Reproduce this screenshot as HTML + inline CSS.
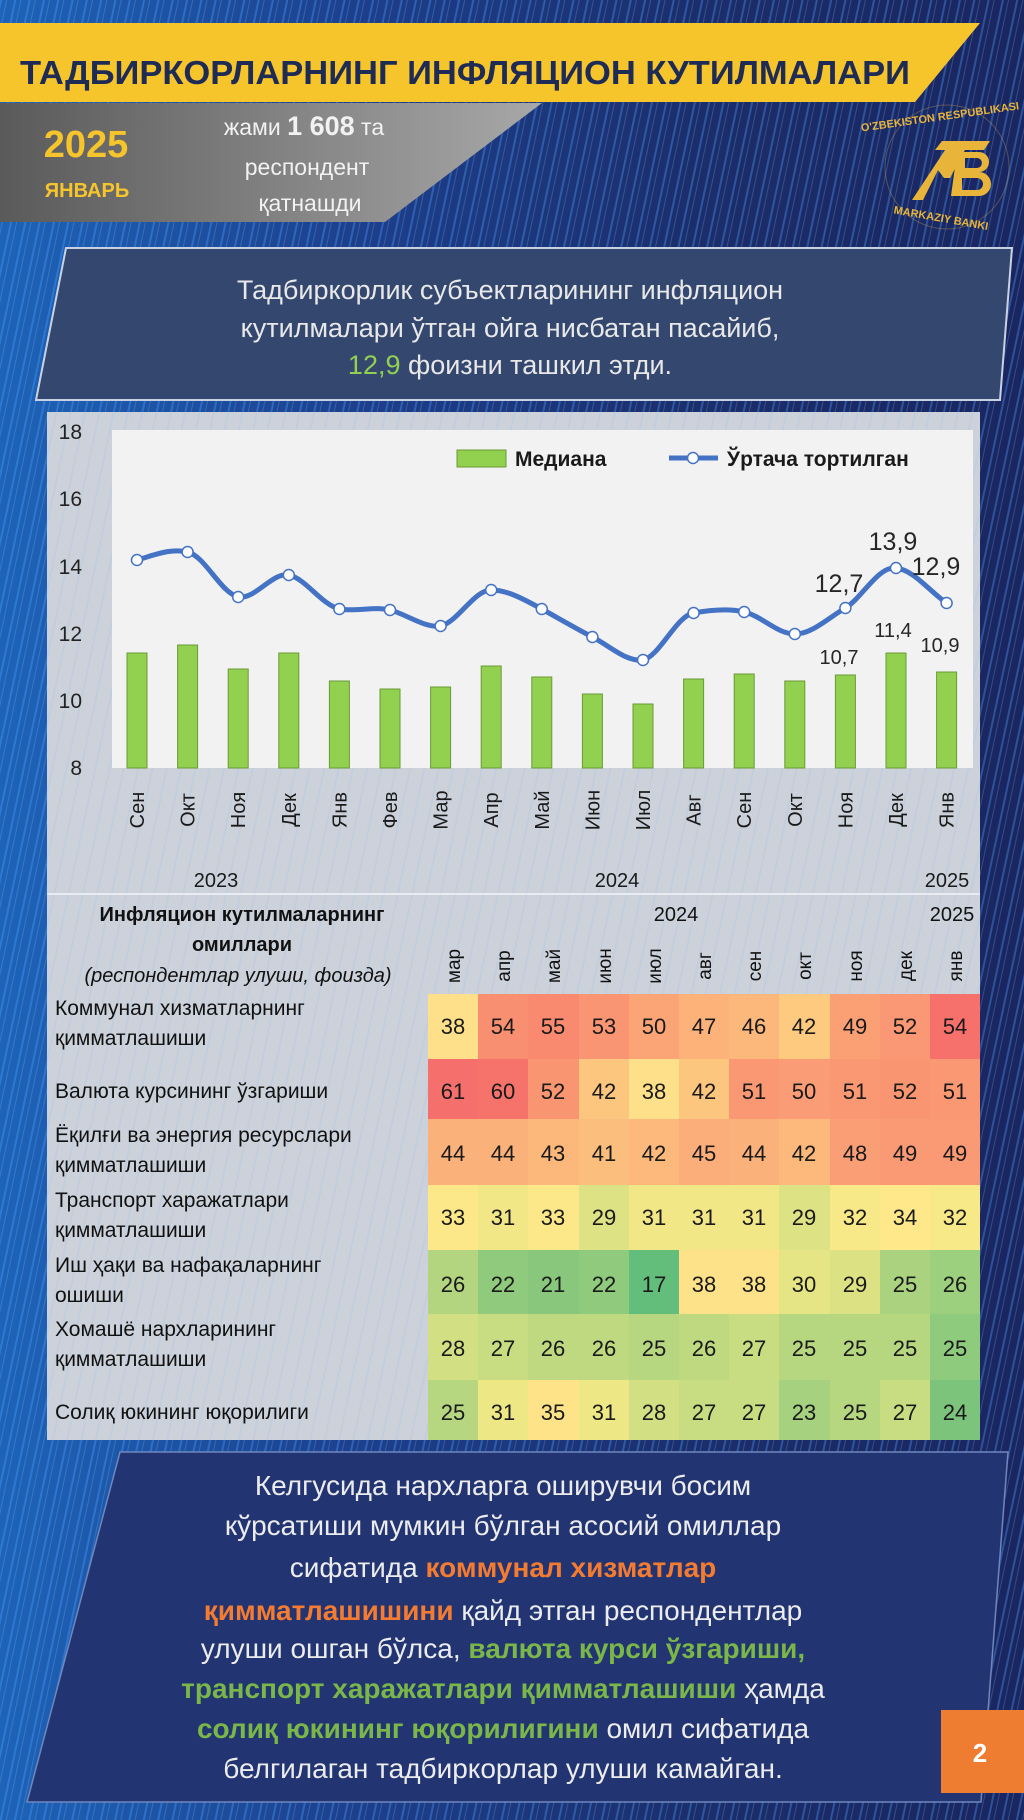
<!DOCTYPE html>
<html><head><meta charset="utf-8"><style>
html,body{margin:0;padding:0;background:#1c2f6a;}
svg{display:block}
text{font-family:"Liberation Sans Narrow","Liberation Sans",sans-serif;}
</style></head><body>
<svg width="1024" height="1820" viewBox="0 0 1024 1820" xmlns="http://www.w3.org/2000/svg">
<defs>
<linearGradient id="bg" x1="0" y1="0" x2="1" y2="0">
<stop offset="0" stop-color="#1d63b8"/><stop offset="0.35" stop-color="#1d3f8c"/><stop offset="0.7" stop-color="#1b2d6a"/><stop offset="1" stop-color="#1a2660"/></linearGradient>
<pattern id="st" width="14" height="60" patternUnits="userSpaceOnUse" patternTransform="rotate(12)">
<rect x="0" y="0" width="2" height="60" fill="#4fa3ff" opacity="0.35"/><rect x="6" y="0" width="1" height="60" fill="#7cc0ff" opacity="0.25"/></pattern>
<linearGradient id="gray" x1="0" y1="0" x2="1" y2="0"><stop offset="0" stop-color="#5a5a5a"/><stop offset="1" stop-color="#a8a8a8"/></linearGradient>
</defs>
<rect width="1024" height="1820" fill="url(#bg)"/>
<rect width="1024" height="1820" fill="url(#st)"/>
<!-- header -->
<polygon points="0,23 980,23 915,102 0,102" fill="#f6c52c"/>
<text x="20" y="84" font-size="33" font-weight="bold" fill="#1e2b55" textLength="890" lengthAdjust="spacingAndGlyphs">ТАДБИРКОРЛАРНИНГ  ИНФЛЯЦИОН  КУТИЛМАЛАРИ</text>
<polygon points="0,103 542,103 385,222 0,222" fill="url(#gray)"/>
<text x="86" y="157" font-size="38" font-weight="bold" fill="#f6c52c" text-anchor="middle">2025</text>
<text x="87" y="197" font-size="20" font-weight="bold" fill="#f6c52c" text-anchor="middle">ЯНВАРЬ</text>
<text x="304" y="135" font-size="23" fill="#f2f2f2" text-anchor="middle">жами <tspan font-weight="bold" font-size="27">1 608</tspan> та</text>
<text x="307" y="175" font-size="23" fill="#f2f2f2" text-anchor="middle">респондент</text>
<text x="310" y="211" font-size="23" fill="#f2f2f2" text-anchor="middle">қатнашди</text>
<!-- logo -->
<g fill="#e8b53a">
<circle cx="947" cy="167" r="62" fill="none" stroke="#e8b53a" stroke-width="1" opacity="0.3"/>
<polygon points="912,200 945,150 935,150 942,141 990,141 984,150 965,150 950,178 944,178 938,170 923,200"/>
<path d="M957,152 h22 a10,10 0 0 1 0,20 a12,12 0 0 1 0,24 h-28 z M965,158 v10 h12 a5,5 0 0 0 0,-10 z M962,178 v12 h15 a6,6 0 0 0 0,-12 z" fill-rule="evenodd"/>
<text x="947" y="120" font-size="11" font-weight="bold" text-anchor="middle" transform="rotate(-8 947 167)">O'ZBEKISTON RESPUBLIKASI</text>
<text x="950" y="222" font-size="11" font-weight="bold" text-anchor="middle" transform="rotate(10 947 167)">MARKAZIY BANKI</text>
</g>
<!-- summary box -->
<polygon points="66,248 1012,248 1000,400 36,400" fill="#34486f" stroke="#c9d2e3" stroke-width="2"/>
<g font-size="27" fill="#e8e8e8" text-anchor="middle">
<text x="510" y="299">Тадбиркорлик субъектларининг инфляцион</text>
<text x="510" y="337">кутилмалари ўтган ойга нисбатан пасайиб,</text>
<text x="510" y="374"><tspan fill="#92d050">12,9</tspan> фоизни ташкил этди.</text>
</g>
<!-- chart panel -->
<rect x="47" y="412" width="933" height="1028" fill="#cdd2da"/>
<rect x="47" y="412" width="933" height="1028" fill="url(#st)" opacity="0.25"/>
<rect x="112" y="430" width="861" height="338" fill="#f2f2f2"/>
<g font-size="21" fill="#222" text-anchor="end">
<text x="82" y="439">18</text><text x="82" y="506">16</text><text x="82" y="574">14</text><text x="82" y="641">12</text><text x="82" y="708">10</text><text x="82" y="775">8</text>
</g>
<g fill="#92d050" stroke="#6a9a35" stroke-width="1">
<rect x="127" y="653" width="20" height="115"/><rect x="177.6" y="645" width="20" height="123"/><rect x="228.2" y="669" width="20" height="99"/><rect x="278.8" y="653" width="20" height="115"/><rect x="329.4" y="681" width="20" height="87"/><rect x="380" y="689" width="20" height="79"/><rect x="430.6" y="687" width="20" height="81"/><rect x="481.2" y="666" width="20" height="102"/><rect x="531.8" y="677" width="20" height="91"/><rect x="582.4" y="694" width="20" height="74"/><rect x="633" y="704" width="20" height="64"/><rect x="683.6" y="679" width="20" height="89"/><rect x="734.2" y="674" width="20" height="94"/><rect x="784.8" y="681" width="20" height="87"/><rect x="835.4" y="675" width="20" height="93"/><rect x="886" y="653" width="20" height="115"/><rect x="936.6" y="672" width="20" height="96"/>
</g>
<path d="M137,560 C155,555 170,548 187.6,552 C205,556 220,592 238.2,597 C255,600 272,572 288.8,575 C305,578 322,605 339.4,609 C356,612 374,606 390,610 C406,614 424,628 440.6,626 C458,622 474,590 491.2,590 C508,590 525,600 541.8,609 C558,618 575,628 592.4,637 C610,646 626,662 643,660 C660,656 676,616 693.6,613 C710,610 728,608 744.2,612 C762,616 777,634 794.8,634 C812,634 828,618 845.4,608 C862,598 878,566 896,568 C914,570 930,592 946.6,603" fill="none" stroke="#4472c4" stroke-width="5" stroke-linecap="round"/>
<g fill="#fff" stroke="#4472c4" stroke-width="1.5">
<circle cx="137" cy="560" r="5.5"/><circle cx="187.6" cy="552" r="5.5"/><circle cx="238.2" cy="597" r="5.5"/><circle cx="288.8" cy="575" r="5.5"/><circle cx="339.4" cy="609" r="5.5"/><circle cx="390" cy="610" r="5.5"/><circle cx="440.6" cy="626" r="5.5"/><circle cx="491.2" cy="590" r="5.5"/><circle cx="541.8" cy="609" r="5.5"/><circle cx="592.4" cy="637" r="5.5"/><circle cx="643" cy="660" r="5.5"/><circle cx="693.6" cy="613" r="5.5"/><circle cx="744.2" cy="612" r="5.5"/><circle cx="794.8" cy="634" r="5.5"/><circle cx="845.4" cy="608" r="5.5"/><circle cx="896" cy="568" r="5.5"/><circle cx="946.6" cy="603" r="5.5"/>
</g>
<g fill="#262626" text-anchor="middle">
<text x="839" y="592" font-size="25">12,7</text><text x="893" y="550" font-size="25">13,9</text><text x="936" y="575" font-size="25">12,9</text>
<text x="839" y="664" font-size="20">10,7</text><text x="893" y="637" font-size="20">11,4</text><text x="940" y="652" font-size="20">10,9</text>
</g>
<rect x="457" y="450" width="49" height="17" fill="#92d050" stroke="#6a9a35"/>
<text x="515" y="466" font-size="21" font-weight="bold" fill="#1a1a1a">Медиана</text>
<line x1="669" y1="458" x2="718" y2="458" stroke="#4472c4" stroke-width="5"/>
<circle cx="693" cy="458" r="5.5" fill="#fff" stroke="#4472c4" stroke-width="1.5"/>
<text x="727" y="466" font-size="21" font-weight="bold" fill="#1a1a1a">Ўртача тортилган</text>
<g font-size="20" fill="#1a1a1a" text-anchor="middle">
<text transform="translate(144,810) rotate(-90)">Сен</text><text transform="translate(194.6,810) rotate(-90)">Окт</text><text transform="translate(245.2,810) rotate(-90)">Ноя</text><text transform="translate(295.8,810) rotate(-90)">Дек</text><text transform="translate(346.4,810) rotate(-90)">Янв</text><text transform="translate(397,810) rotate(-90)">Фев</text><text transform="translate(447.6,810) rotate(-90)">Мар</text><text transform="translate(498.2,810) rotate(-90)">Апр</text><text transform="translate(548.8,810) rotate(-90)">Май</text><text transform="translate(599.4,810) rotate(-90)">Июн</text><text transform="translate(650,810) rotate(-90)">Июл</text><text transform="translate(700.6,810) rotate(-90)">Авг</text><text transform="translate(751.2,810) rotate(-90)">Сен</text><text transform="translate(801.8,810) rotate(-90)">Окт</text><text transform="translate(852.4,810) rotate(-90)">Ноя</text><text transform="translate(903,810) rotate(-90)">Дек</text><text transform="translate(953.6,810) rotate(-90)">Янв</text>
<text x="216" y="887">2023</text><text x="617" y="887">2024</text><text x="947" y="887">2025</text>
</g>
<line x1="47" y1="894" x2="980" y2="894" stroke="#e8ecf2" stroke-width="2"/>
<!-- table -->
<g font-size="20" fill="#111">
<text x="242" y="921" font-weight="bold" text-anchor="middle">Инфляцион кутилмаларнинг</text>
<text x="242" y="951" font-weight="bold" text-anchor="middle">омиллари</text>
<text x="238" y="982" font-style="italic" text-anchor="middle">(респондентлар  улуши, фоизда)</text>
<text x="676" y="921" text-anchor="middle">2024</text><text x="952" y="921" text-anchor="middle">2025</text>
</g>
<g font-size="19" fill="#111" text-anchor="middle">
<text transform="translate(460,966) rotate(-90)">мар</text><text transform="translate(510,966) rotate(-90)">апр</text><text transform="translate(560,966) rotate(-90)">май</text><text transform="translate(611,966) rotate(-90)">июн</text><text transform="translate(661,966) rotate(-90)">июл</text><text transform="translate(711,966) rotate(-90)">авг</text><text transform="translate(761,966) rotate(-90)">сен</text><text transform="translate(811,966) rotate(-90)">окт</text><text transform="translate(862,966) rotate(-90)">ноя</text><text transform="translate(912,966) rotate(-90)">дек</text><text transform="translate(962,966) rotate(-90)">янв</text>
</g>
<g>
<!-- row1 y994 -->
<rect x="428" y="994" width="51" height="65" fill="#fee08a"/><rect x="478" y="994" width="51" height="65" fill="#f98f71"/><rect x="528" y="994" width="51" height="65" fill="#f98a70"/><rect x="579" y="994" width="51" height="65" fill="#fa9573"/><rect x="629" y="994" width="51" height="65" fill="#fba576"/><rect x="679" y="994" width="51" height="65" fill="#fcb279"/><rect x="729" y="994" width="51" height="65" fill="#fcb87a"/><rect x="779" y="994" width="51" height="65" fill="#fdca80"/><rect x="830" y="994" width="51" height="65" fill="#fba075"/><rect x="880" y="994" width="51" height="65" fill="#fa9774"/><rect x="930" y="994" width="50" height="65" fill="#f7716c"/>
<!-- row2 y1059 -->
<rect x="428" y="1059" width="51" height="60" fill="#f5706c"/><rect x="478" y="1059" width="51" height="60" fill="#f6736c"/><rect x="528" y="1059" width="51" height="60" fill="#fa9572"/><rect x="579" y="1059" width="51" height="60" fill="#fdc67e"/><rect x="629" y="1059" width="51" height="60" fill="#ffe08a"/><rect x="679" y="1059" width="51" height="60" fill="#fdc67e"/><rect x="729" y="1059" width="51" height="60" fill="#fa9874"/><rect x="779" y="1059" width="51" height="60" fill="#fa9c75"/><rect x="830" y="1059" width="51" height="60" fill="#fa9874"/><rect x="880" y="1059" width="51" height="60" fill="#fa9572"/><rect x="930" y="1059" width="50" height="60" fill="#fa9874"/>
<!-- row3 y1119 -->
<rect x="428" y="1119" width="51" height="66" fill="#fbb27a"/><rect x="478" y="1119" width="51" height="66" fill="#fbb27a"/><rect x="528" y="1119" width="51" height="66" fill="#fcb77b"/><rect x="579" y="1119" width="51" height="66" fill="#fcbe7c"/><rect x="629" y="1119" width="51" height="66" fill="#fcb97b"/><rect x="679" y="1119" width="51" height="66" fill="#fbae79"/><rect x="729" y="1119" width="51" height="66" fill="#fbb27a"/><rect x="779" y="1119" width="51" height="66" fill="#fcb97b"/><rect x="830" y="1119" width="51" height="66" fill="#fa9e75"/><rect x="880" y="1119" width="51" height="66" fill="#fa9a74"/><rect x="930" y="1119" width="50" height="66" fill="#fa9a74"/>
<!-- row4 y1185 -->
<rect x="428" y="1185" width="51" height="65" fill="#fce889"/><rect x="478" y="1185" width="51" height="65" fill="#f1e787"/><rect x="528" y="1185" width="51" height="65" fill="#fce889"/><rect x="579" y="1185" width="51" height="65" fill="#dde285"/><rect x="629" y="1185" width="51" height="65" fill="#f1e787"/><rect x="679" y="1185" width="51" height="65" fill="#f1e787"/><rect x="729" y="1185" width="51" height="65" fill="#f1e787"/><rect x="779" y="1185" width="51" height="65" fill="#dde285"/><rect x="830" y="1185" width="51" height="65" fill="#f7e888"/><rect x="880" y="1185" width="51" height="65" fill="#ffe889"/><rect x="930" y="1185" width="50" height="65" fill="#f7e888"/>
<!-- row5 y1250 -->
<rect x="428" y="1250" width="51" height="64" fill="#b4d580"/><rect x="478" y="1250" width="51" height="64" fill="#90ca7d"/><rect x="528" y="1250" width="51" height="64" fill="#88c77c"/><rect x="579" y="1250" width="51" height="64" fill="#90ca7d"/><rect x="629" y="1250" width="51" height="64" fill="#63be7b"/><rect x="679" y="1250" width="51" height="64" fill="#fee28a"/><rect x="729" y="1250" width="51" height="64" fill="#fee28a"/><rect x="779" y="1250" width="51" height="64" fill="#e6e585"/><rect x="830" y="1250" width="51" height="64" fill="#dce283"/><rect x="880" y="1250" width="51" height="64" fill="#aad27f"/><rect x="930" y="1250" width="50" height="64" fill="#9ccf7e"/>
<!-- row6 y1314 -->
<rect x="428" y="1314" width="51" height="66" fill="#d2df83"/><rect x="478" y="1314" width="51" height="66" fill="#c8dc81"/><rect x="528" y="1314" width="51" height="66" fill="#bfd980"/><rect x="579" y="1314" width="51" height="66" fill="#bfd980"/><rect x="629" y="1314" width="51" height="66" fill="#b6d680"/><rect x="679" y="1314" width="51" height="66" fill="#bfd980"/><rect x="729" y="1314" width="51" height="66" fill="#c8dc81"/><rect x="779" y="1314" width="51" height="66" fill="#b6d680"/><rect x="830" y="1314" width="51" height="66" fill="#b6d680"/><rect x="880" y="1314" width="51" height="66" fill="#b6d680"/><rect x="930" y="1314" width="50" height="66" fill="#8ecb7c"/>
<!-- row7 y1380 -->
<rect x="428" y="1380" width="51" height="60" fill="#b6d680"/><rect x="478" y="1380" width="51" height="60" fill="#eee786"/><rect x="528" y="1380" width="51" height="60" fill="#fee388"/><rect x="579" y="1380" width="51" height="60" fill="#eee786"/><rect x="629" y="1380" width="51" height="60" fill="#d2df83"/><rect x="679" y="1380" width="51" height="60" fill="#c8dc81"/><rect x="729" y="1380" width="51" height="60" fill="#c8dc81"/><rect x="779" y="1380" width="51" height="60" fill="#a6d27f"/><rect x="830" y="1380" width="51" height="60" fill="#b6d680"/><rect x="880" y="1380" width="51" height="60" fill="#c8dc81"/><rect x="930" y="1380" width="50" height="60" fill="#7cc47b"/>
</g>
<g font-size="21" fill="#111">
<text x="55" y="1015">Коммунал  хизматларнинг</text><text x="55" y="1045">қимматлашиши</text>
<text x="55" y="1098">Валюта курсининг ўзгариши</text>
<text x="55" y="1142">Ёқилғи ва энергия ресурслари</text><text x="55" y="1172">қимматлашиши</text>
<text x="55" y="1207">Транспорт  харажатлари</text><text x="55" y="1237">қимматлашиши</text>
<text x="55" y="1272">Иш ҳақи ва нафақаларнинг</text><text x="55" y="1302">ошиши</text>
<text x="55" y="1336">Хомашё  нархларининг</text><text x="55" y="1366">қимматлашиши</text>
<text x="55" y="1419">Солиқ юкининг юқорилиги</text>
</g>
<g font-size="22" fill="#1a1a1a" text-anchor="middle">
<text y="1034"><tspan x="453">38</tspan><tspan x="503">54</tspan><tspan x="553">55</tspan><tspan x="604">53</tspan><tspan x="654">50</tspan><tspan x="704">47</tspan><tspan x="754">46</tspan><tspan x="804">42</tspan><tspan x="855">49</tspan><tspan x="905">52</tspan><tspan x="955">54</tspan></text>
<text y="1099"><tspan x="453">61</tspan><tspan x="503">60</tspan><tspan x="553">52</tspan><tspan x="604">42</tspan><tspan x="654">38</tspan><tspan x="704">42</tspan><tspan x="754">51</tspan><tspan x="804">50</tspan><tspan x="855">51</tspan><tspan x="905">52</tspan><tspan x="955">51</tspan></text>
<text y="1161"><tspan x="453">44</tspan><tspan x="503">44</tspan><tspan x="553">43</tspan><tspan x="604">41</tspan><tspan x="654">42</tspan><tspan x="704">45</tspan><tspan x="754">44</tspan><tspan x="804">42</tspan><tspan x="855">48</tspan><tspan x="905">49</tspan><tspan x="955">49</tspan></text>
<text y="1225"><tspan x="453">33</tspan><tspan x="503">31</tspan><tspan x="553">33</tspan><tspan x="604">29</tspan><tspan x="654">31</tspan><tspan x="704">31</tspan><tspan x="754">31</tspan><tspan x="804">29</tspan><tspan x="855">32</tspan><tspan x="905">34</tspan><tspan x="955">32</tspan></text>
<text y="1292"><tspan x="453">26</tspan><tspan x="503">22</tspan><tspan x="553">21</tspan><tspan x="604">22</tspan><tspan x="654">17</tspan><tspan x="704">38</tspan><tspan x="754">38</tspan><tspan x="804">30</tspan><tspan x="855">29</tspan><tspan x="905">25</tspan><tspan x="955">26</tspan></text>
<text y="1356"><tspan x="453">28</tspan><tspan x="503">27</tspan><tspan x="553">26</tspan><tspan x="604">26</tspan><tspan x="654">25</tspan><tspan x="704">26</tspan><tspan x="754">27</tspan><tspan x="804">25</tspan><tspan x="855">25</tspan><tspan x="905">25</tspan><tspan x="955">25</tspan></text>
<text y="1420"><tspan x="453">25</tspan><tspan x="503">31</tspan><tspan x="553">35</tspan><tspan x="604">31</tspan><tspan x="654">28</tspan><tspan x="704">27</tspan><tspan x="754">27</tspan><tspan x="804">23</tspan><tspan x="855">25</tspan><tspan x="905">27</tspan><tspan x="955">24</tspan></text>
</g>
<!-- bottom box -->
<polygon points="120,1452 1008,1452 981,1802 27,1802" fill="#223572" stroke="#6f87bd" stroke-width="1.5"/>
<g font-size="28" fill="#ececec" text-anchor="middle">
<text x="503" y="1495">Келгусида нархларга оширувчи босим</text>
<text x="503" y="1535">кўрсатиши мумкин бўлган асосий омиллар</text>
<text x="503" y="1577">сифатида <tspan fill="#f47b30" font-weight="bold">коммунал хизматлар</tspan></text>
<text x="503" y="1620"><tspan fill="#f47b30" font-weight="bold">қимматлашишини</tspan> қайд этган респондентлар</text>
<text x="503" y="1658">улуши  ошган бўлса, <tspan fill="#7ab648" font-weight="bold">валюта курси ўзгариши,</tspan></text>
<text x="503" y="1698"><tspan fill="#7ab648" font-weight="bold">транспорт харажатлари қимматлашиши</tspan> ҳамда</text>
<text x="503" y="1738"><tspan fill="#7ab648" font-weight="bold">солиқ юкининг юқорилигини</tspan> омил сифатида</text>
<text x="503" y="1778">белгилаган тадбиркорлар улуши  камайган.</text>
</g>
<rect x="941" y="1710" width="83" height="83" fill="#ee7d31"/>
<text x="980" y="1762" font-size="26" font-weight="bold" fill="#fff" text-anchor="middle">2</text>
</svg>
</body></html>
